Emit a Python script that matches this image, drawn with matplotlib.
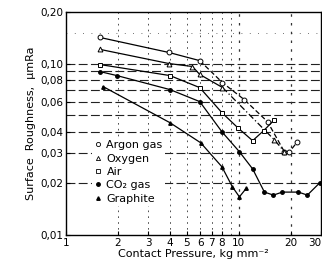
import matplotlib
matplotlib.use('Agg')
import matplotlib.pyplot as plt

# values (log-log)
argon_x = [1.57, 3.95, 5.95, 8.06, 10.8, 14.7, 18.4, 19.7, 21.9]
argon_y = [0.142, 0.116, 0.104, 0.0774, 0.0615, 0.0458, 0.0306, 0.0306, 0.035]

oxygen_x = [1.57, 3.95, 5.4, 5.95, 8.06, 16.1, 18.4]
oxygen_y = [0.121, 0.100, 0.0961, 0.0864, 0.0725, 0.0359, 0.0306]

air_x = [1.57, 4.0, 5.95, 8.0, 9.87, 12.05, 13.95, 16.1]
air_y = [0.0987, 0.0851, 0.0724, 0.0517, 0.0423, 0.0355, 0.0406, 0.047]

co2_x = [1.57, 1.97, 4.0, 5.95, 8.0, 10.1, 12.05, 14.1, 15.9, 17.9, 22.2, 25.0, 29.4]
co2_y = [0.0898, 0.0851, 0.0705, 0.060, 0.040, 0.0306, 0.0243, 0.0178, 0.0171,
         0.0178, 0.0178, 0.0171, 0.0201]

graphite_x = [1.64, 4.0, 6.03, 8.0, 9.2, 10.1, 11.1]
graphite_y = [0.0734, 0.0452, 0.0345, 0.025, 0.0191, 0.0167, 0.0188]

x_ticks = [1, 2, 3, 4, 5, 6, 7, 8, 10, 20, 30]
x_labels = ['1', '2', '3', '4', '5', '6', '7', '8', '10', '20', '30']
y_ticks = [0.01, 0.02, 0.03, 0.04, 0.06, 0.08, 0.10, 0.20]
y_labels = ['0,01', '0,02', '0,03', '0,04', '0,06', '0,08', '0,10', '0,20']
h_grid = [0.02, 0.03, 0.04, 0.05, 0.06, 0.07, 0.08, 0.09, 0.10]
v_grid = [2, 3, 4, 5, 6, 7, 8, 9, 10, 20]

plt.rcParams['font.family'] = 'DejaVu Sans'
plt.rcParams['font.size'] = 7

fig = plt.figure(figsize=(3.22, 2.65), dpi=100)
ax = fig.add_axes([0.205, 0.113, 0.792, 0.842])
ax.set_xscale('log')
ax.set_yscale('log')
ax.set_xlim(1, 30)
ax.set_ylim(0.01, 0.2)

# grid
for y in h_grid:
    ax.axhline(y, color='#222222', lw=0.8, ls=(0, (8, 3)), zorder=0)
ax.axhline(0.15, color='#444444', lw=0.6, ls=(0, (1, 9)), zorder=0)
for x in v_grid:
    lw = 0.9 if x in (10, 20) else 0.6
    ax.axvline(x, color='#333333', lw=lw, ls=(0, (2, 5)), zorder=0)

k = dict(color='black', lw=0.9, ms=3.5, mew=0.7)

# argon: solid then dashed
ax.plot(argon_x[:3], argon_y[:3], '-', **k)
ax.plot(argon_x[2:], argon_y[2:], ls=(0, (4, 2)), **k)
ax.plot(argon_x, argon_y, 'o', mfc='white', mec='black', ms=3.5, mew=0.7, ls='none')

# oxygen: solid then dash-dot
ax.plot(oxygen_x[:5], oxygen_y[:5], '-', **k)
ax.plot(oxygen_x[4:], oxygen_y[4:], ls=(0, (5, 2, 1, 2)), **k)
ax.plot(oxygen_x, oxygen_y, '^', mfc='white', mec='black', ms=3.5, mew=0.7, ls='none')

ax.plot(air_x, air_y, 's-', mfc='white', mec='black', **k)
ax.plot(co2_x, co2_y, 'o-', mfc='black', mec='black', color='black', lw=0.9, ms=2.5)
ax.plot(graphite_x, graphite_y, '^-', mfc='black', mec='black', color='black', lw=0.9, ms=2.5)

# legend (markers only)
h1, = ax.plot([], [], 'o', mfc='white', mec='black', ms=3, mew=0.6)
h2, = ax.plot([], [], '^', mfc='white', mec='black', ms=3, mew=0.6)
h3, = ax.plot([], [], 's', mfc='white', mec='black', ms=3, mew=0.6)
h4, = ax.plot([], [], 'o', mfc='black', mec='black', ms=2.5)
h5, = ax.plot([], [], '^', mfc='black', mec='black', ms=2.5)
leg = ax.legend([h1, h2, h3, h4, h5],
                ['Argon gas', 'Oxygen', 'Air', 'CO\u2082 gas', 'Graphite'],
                loc='upper left', bbox_to_anchor=(0.08, 0.46),
                frameon=True, framealpha=1, edgecolor='none', facecolor='white',
                handlelength=0.6, handletextpad=0.5, labelspacing=0.3,
                borderpad=0.2, fontsize=8)

ax.xaxis.set_major_locator(matplotlib.ticker.FixedLocator(x_ticks))
ax.xaxis.set_minor_locator(matplotlib.ticker.NullLocator())
ax.set_xticklabels(x_labels)
ax.yaxis.set_major_locator(matplotlib.ticker.FixedLocator(y_ticks))
ax.yaxis.set_minor_locator(matplotlib.ticker.NullLocator())
ax.set_yticklabels(y_labels)
ax.tick_params(direction='in', length=3, width=0.8, labelsize=7.5, pad=2)
# keep the last x label inside the picture
ax.get_xticklabels()[-1].set_horizontalalignment('right')

for s in ax.spines.values():
    s.set_linewidth(1.0)

ax.set_xlabel('Contact Pressure, kg mm\u207b\u00b2', fontsize=8, labelpad=1)
ax.set_ylabel('Surface  Roughness,  \u03bcmRa', fontsize=8, labelpad=3)

fig.savefig('out.png', dpi=100)
